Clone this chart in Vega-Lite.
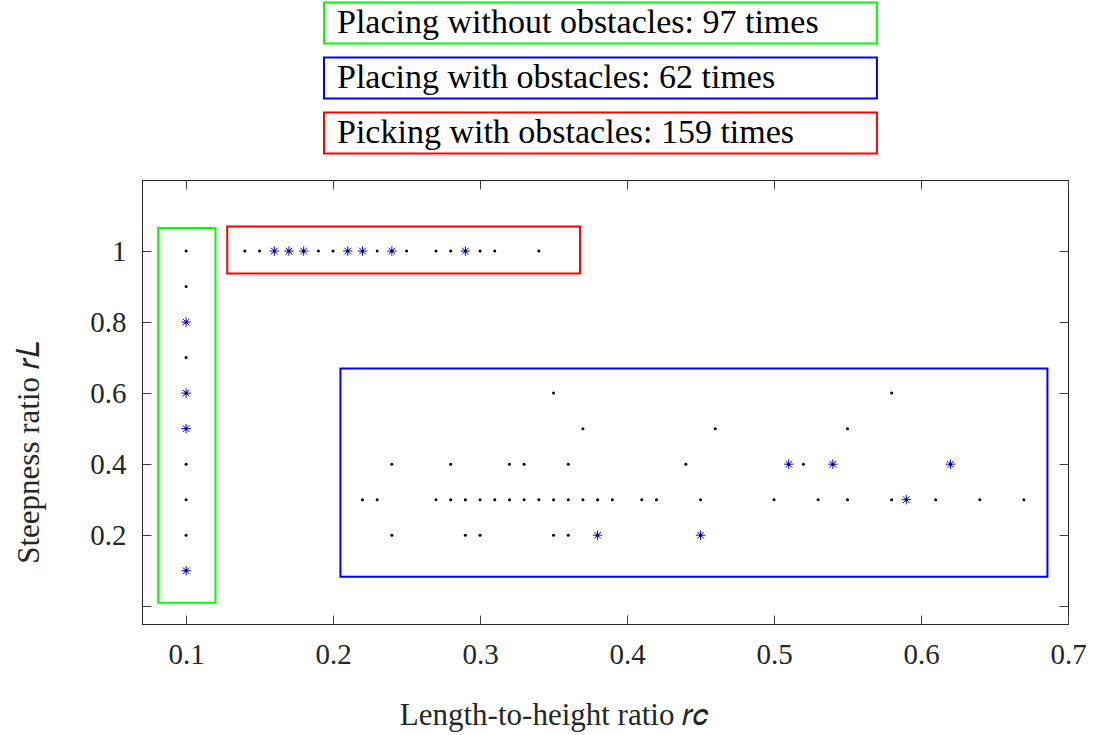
{
  "$schema": "https://vega.github.io/schema/vega-lite/v6.json",
  "width": 926,
  "height": 444,
  "autosize": {"type": "none"},
  "padding": {"left": 142, "top": 180, "right": 35, "bottom": 111},
  "background": "white",
  "config": {
    "font": "Liberation Serif",
    "view": {"stroke": "#262626", "strokeWidth": 1},
    "axis": {
      "grid": false,
      "domainColor": "#262626",
      "domainWidth": 1,
      "tickColor": "#404040",
      "tickWidth": 1,
      "tickSize": -9,
      "labelFont": "Liberation Serif",
      "labelFontSize": 29,
      "labelColor": "#262626",
      "titleFont": "Liberation Serif",
      "titleFontSize": 31,
      "titleFontWeight": "normal",
      "titleColor": "#262626"
    }
  },
  "datasets": {
    "regions": [
      {"region": "Placing without obstacles: 97 times", "rc_min": 0.081, "rc_max": 0.12, "rL_min": 0.01, "rL_max": 1.065},
      {"region": "Placing with obstacles: 62 times", "rc_min": 0.205, "rc_max": 0.686, "rL_min": 0.083, "rL_max": 0.669},
      {"region": "Picking with obstacles: 159 times", "rc_min": 0.128, "rc_max": 0.368, "rL_min": 0.937, "rL_max": 1.069}
    ],
    "trials": [
      {"task": "placing, no obstacles", "rc": 0.1, "rL": 1.0, "marked": false},
      {"task": "placing, no obstacles", "rc": 0.1, "rL": 0.9, "marked": false},
      {"task": "placing, no obstacles", "rc": 0.1, "rL": 0.8, "marked": true},
      {"task": "placing, no obstacles", "rc": 0.1, "rL": 0.7, "marked": false},
      {"task": "placing, no obstacles", "rc": 0.1, "rL": 0.6, "marked": true},
      {"task": "placing, no obstacles", "rc": 0.1, "rL": 0.5, "marked": true},
      {"task": "placing, no obstacles", "rc": 0.1, "rL": 0.4, "marked": false},
      {"task": "placing, no obstacles", "rc": 0.1, "rL": 0.3, "marked": false},
      {"task": "placing, no obstacles", "rc": 0.1, "rL": 0.2, "marked": false},
      {"task": "placing, no obstacles", "rc": 0.1, "rL": 0.1, "marked": true},

      {"task": "picking, obstacles", "rc": 0.14, "rL": 1.0, "marked": false},
      {"task": "picking, obstacles", "rc": 0.15, "rL": 1.0, "marked": false},
      {"task": "picking, obstacles", "rc": 0.16, "rL": 1.0, "marked": true},
      {"task": "picking, obstacles", "rc": 0.17, "rL": 1.0, "marked": true},
      {"task": "picking, obstacles", "rc": 0.18, "rL": 1.0, "marked": true},
      {"task": "picking, obstacles", "rc": 0.19, "rL": 1.0, "marked": false},
      {"task": "picking, obstacles", "rc": 0.20, "rL": 1.0, "marked": false},
      {"task": "picking, obstacles", "rc": 0.21, "rL": 1.0, "marked": true},
      {"task": "picking, obstacles", "rc": 0.22, "rL": 1.0, "marked": true},
      {"task": "picking, obstacles", "rc": 0.23, "rL": 1.0, "marked": false},
      {"task": "picking, obstacles", "rc": 0.24, "rL": 1.0, "marked": true},
      {"task": "picking, obstacles", "rc": 0.25, "rL": 1.0, "marked": false},
      {"task": "picking, obstacles", "rc": 0.27, "rL": 1.0, "marked": false},
      {"task": "picking, obstacles", "rc": 0.28, "rL": 1.0, "marked": false},
      {"task": "picking, obstacles", "rc": 0.29, "rL": 1.0, "marked": true},
      {"task": "picking, obstacles", "rc": 0.30, "rL": 1.0, "marked": false},
      {"task": "picking, obstacles", "rc": 0.31, "rL": 1.0, "marked": false},
      {"task": "picking, obstacles", "rc": 0.34, "rL": 1.0, "marked": false},

      {"task": "placing, obstacles", "rc": 0.35, "rL": 0.6, "marked": false},
      {"task": "placing, obstacles", "rc": 0.58, "rL": 0.6, "marked": false},
      {"task": "placing, obstacles", "rc": 0.37, "rL": 0.5, "marked": false},
      {"task": "placing, obstacles", "rc": 0.46, "rL": 0.5, "marked": false},
      {"task": "placing, obstacles", "rc": 0.55, "rL": 0.5, "marked": false},
      {"task": "placing, obstacles", "rc": 0.24, "rL": 0.4, "marked": false},
      {"task": "placing, obstacles", "rc": 0.28, "rL": 0.4, "marked": false},
      {"task": "placing, obstacles", "rc": 0.32, "rL": 0.4, "marked": false},
      {"task": "placing, obstacles", "rc": 0.33, "rL": 0.4, "marked": false},
      {"task": "placing, obstacles", "rc": 0.36, "rL": 0.4, "marked": false},
      {"task": "placing, obstacles", "rc": 0.44, "rL": 0.4, "marked": false},
      {"task": "placing, obstacles", "rc": 0.51, "rL": 0.4, "marked": true},
      {"task": "placing, obstacles", "rc": 0.52, "rL": 0.4, "marked": false},
      {"task": "placing, obstacles", "rc": 0.54, "rL": 0.4, "marked": true},
      {"task": "placing, obstacles", "rc": 0.62, "rL": 0.4, "marked": true},
      {"task": "placing, obstacles", "rc": 0.22, "rL": 0.3, "marked": false},
      {"task": "placing, obstacles", "rc": 0.23, "rL": 0.3, "marked": false},
      {"task": "placing, obstacles", "rc": 0.27, "rL": 0.3, "marked": false},
      {"task": "placing, obstacles", "rc": 0.28, "rL": 0.3, "marked": false},
      {"task": "placing, obstacles", "rc": 0.29, "rL": 0.3, "marked": false},
      {"task": "placing, obstacles", "rc": 0.30, "rL": 0.3, "marked": false},
      {"task": "placing, obstacles", "rc": 0.31, "rL": 0.3, "marked": false},
      {"task": "placing, obstacles", "rc": 0.32, "rL": 0.3, "marked": false},
      {"task": "placing, obstacles", "rc": 0.33, "rL": 0.3, "marked": false},
      {"task": "placing, obstacles", "rc": 0.34, "rL": 0.3, "marked": false},
      {"task": "placing, obstacles", "rc": 0.35, "rL": 0.3, "marked": false},
      {"task": "placing, obstacles", "rc": 0.36, "rL": 0.3, "marked": false},
      {"task": "placing, obstacles", "rc": 0.37, "rL": 0.3, "marked": false},
      {"task": "placing, obstacles", "rc": 0.38, "rL": 0.3, "marked": false},
      {"task": "placing, obstacles", "rc": 0.39, "rL": 0.3, "marked": false},
      {"task": "placing, obstacles", "rc": 0.41, "rL": 0.3, "marked": false},
      {"task": "placing, obstacles", "rc": 0.42, "rL": 0.3, "marked": false},
      {"task": "placing, obstacles", "rc": 0.45, "rL": 0.3, "marked": false},
      {"task": "placing, obstacles", "rc": 0.50, "rL": 0.3, "marked": false},
      {"task": "placing, obstacles", "rc": 0.53, "rL": 0.3, "marked": false},
      {"task": "placing, obstacles", "rc": 0.55, "rL": 0.3, "marked": false},
      {"task": "placing, obstacles", "rc": 0.58, "rL": 0.3, "marked": false},
      {"task": "placing, obstacles", "rc": 0.59, "rL": 0.3, "marked": true},
      {"task": "placing, obstacles", "rc": 0.61, "rL": 0.3, "marked": false},
      {"task": "placing, obstacles", "rc": 0.64, "rL": 0.3, "marked": false},
      {"task": "placing, obstacles", "rc": 0.67, "rL": 0.3, "marked": false},
      {"task": "placing, obstacles", "rc": 0.24, "rL": 0.2, "marked": false},
      {"task": "placing, obstacles", "rc": 0.29, "rL": 0.2, "marked": false},
      {"task": "placing, obstacles", "rc": 0.30, "rL": 0.2, "marked": false},
      {"task": "placing, obstacles", "rc": 0.35, "rL": 0.2, "marked": false},
      {"task": "placing, obstacles", "rc": 0.36, "rL": 0.2, "marked": false},
      {"task": "placing, obstacles", "rc": 0.38, "rL": 0.2, "marked": true},
      {"task": "placing, obstacles", "rc": 0.45, "rL": 0.2, "marked": true}
    ]
  },
  "layer": [
    {
      "data": {"name": "regions"},
      "mark": {"type": "rect", "filled": false, "strokeWidth": 2},
      "encoding": {
        "x": {
          "field": "rc_min", "type": "quantitative",
          "scale": {"domain": [0.07, 0.7], "nice": false, "zero": false},
          "axis": {
            "orient": "bottom",
            "values": [0.1, 0.2, 0.3, 0.4, 0.5, 0.6, 0.7],
            "format": "~g",
            "labelPadding": 25,
            "labelFlush": false,
            "title": "Length-to-height ratio 𝑟𝑐",
            "titleX": 412,
            "titleY": 91,
            "titleAlign": "center",
            "titleBaseline": "middle"
          }
        },
        "x2": {"field": "rc_max"},
        "y": {
          "field": "rL_min", "type": "quantitative",
          "scale": {"domain": [-0.05, 1.2], "nice": false, "zero": false},
          "axis": {
            "orient": "left",
            "values": [0, 0.2, 0.4, 0.6, 0.8, 1],
            "format": "~g",
            "labelExpr": "datum.value == 0 ? '' : datum.label",
            "labelPadding": 25,
            "labelFlush": false,
            "title": "Steepness ratio 𝑟𝐿",
            "titleAngle": -90,
            "titleX": -113,
            "titleY": 272,
            "titleAlign": "center",
            "titleBaseline": "middle"
          }
        },
        "y2": {"field": "rL_max"},
        "stroke": {
          "field": "region", "type": "nominal", "sort": null,
          "scale": {
            "domain": ["Placing without obstacles: 97 times", "Placing with obstacles: 62 times", "Picking with obstacles: 159 times"],
            "range": ["#00ff00", "#0000ff", "#ff0000"]
          },
          "legend": {
            "orient": "none",
            "legendX": 181,
            "legendY": -179,
            "direction": "vertical",
            "title": null,
            "symbolType": "M-1,-0.976L25.33,-0.976L25.33,0.976L-1,0.976Z",
            "symbolSize": 1764,
            "symbolStrokeWidth": 2,
            "symbolFillColor": "transparent",
            "labelOffset": -30,
            "labelFont": "Liberation Serif",
            "labelFontSize": 34,
            "labelColor": "black",
            "labelLimit": 0,
            "rowPadding": 5
          }
        }
      }
    },
    {
      "data": {"name": "trials"},
      "transform": [{"filter": "datum.marked"}],
      "mark": {
        "type": "point",
        "shape": "M-1,0L1,0M0,-1L0,1M-0.7,-0.7L0.7,0.7M-0.7,0.7L0.7,-0.7",
        "filled": false,
        "stroke": "#0000ff",
        "strokeWidth": 1,
        "size": 90,
        "opacity": 1
      },
      "encoding": {
        "x": {"field": "rc", "type": "quantitative", "axis": {"orient": "top", "values": [0.1, 0.2, 0.3, 0.4, 0.5, 0.6, 0.7], "labels": false, "title": null, "domain": false}},
        "y": {"field": "rL", "type": "quantitative", "axis": {"orient": "right", "values": [0, 0.2, 0.4, 0.6, 0.8, 1], "labels": false, "title": null, "domain": false}}
      }
    },
    {
      "data": {"name": "trials"},
      "mark": {"type": "point", "shape": "circle", "filled": true, "color": "black", "size": 9, "opacity": 1},
      "encoding": {
        "x": {"field": "rc", "type": "quantitative", "axis": null},
        "y": {"field": "rL", "type": "quantitative", "axis": null}
      }
    }
  ],
  "resolve": {"axis": {"x": "independent", "y": "independent"}}
}
